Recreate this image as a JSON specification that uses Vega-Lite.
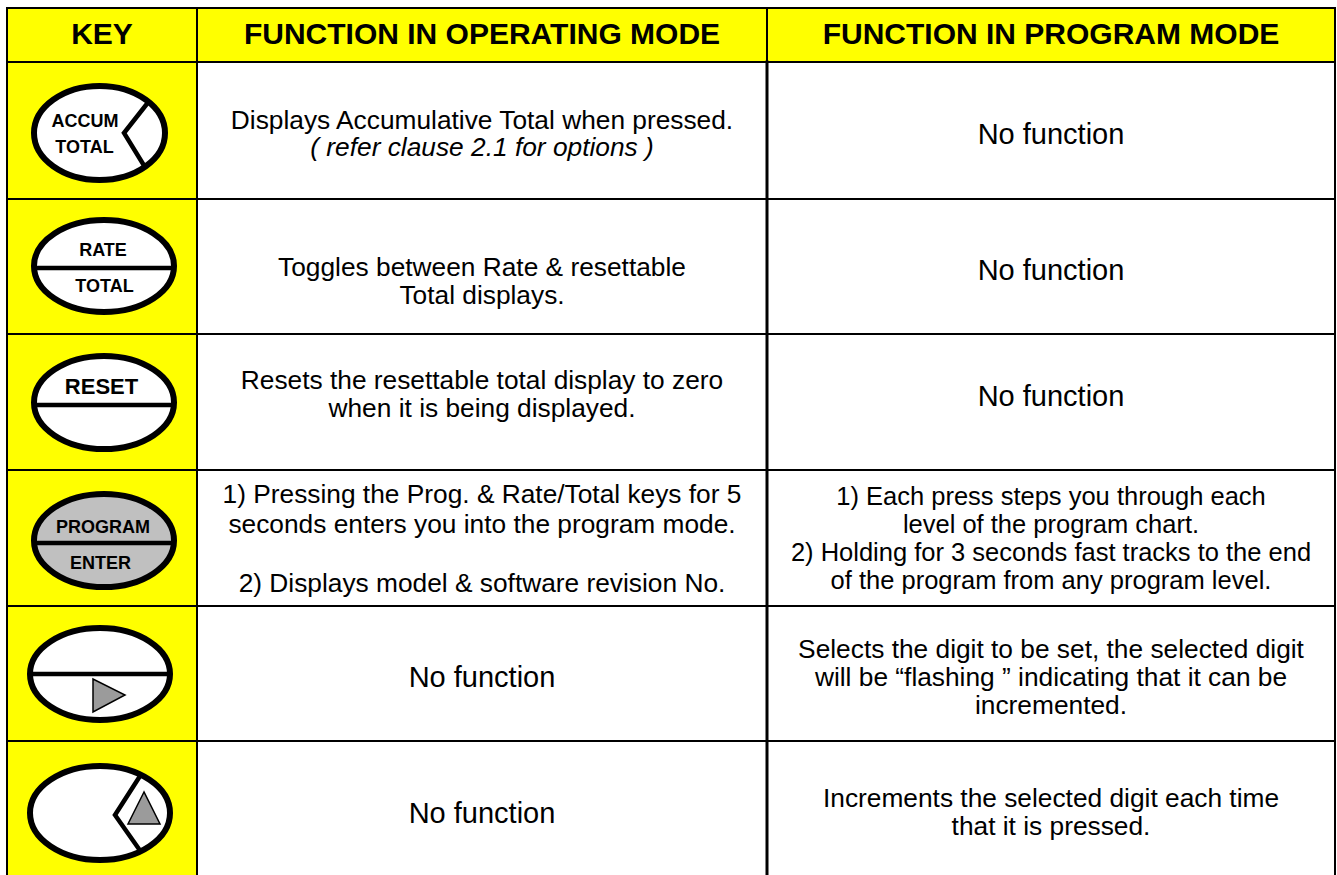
{
  "$schema": "https://vega.github.io/schema/vega-lite/v6.json",
  "width": 1337,
  "height": 875,
  "padding": 0,
  "autosize": {"type": "none"},
  "background": "white",
  "config": {
    "view": {"stroke": null},
    "axis": {"disable": true},
    "legend": {"disable": true},
    "text": {"font": "Liberation Sans", "color": "#000000"}
  },
  "datasets": {
    "header": [
      {"col": 0, "title": "KEY"},
      {"col": 1, "title": "FUNCTION IN OPERATING MODE"},
      {"col": 2, "title": "FUNCTION IN PROGRAM MODE"}
    ],
    "keys": [
      {"row": 1, "key": "accum", "upper": "ACCUM", "lower": "TOTAL"},
      {"row": 2, "key": "rate", "upper": "RATE", "lower": "TOTAL"},
      {"row": 3, "key": "reset", "upper": "RESET"},
      {"row": 4, "key": "program", "upper": "PROGRAM", "lower": "ENTER"},
      {"row": 5, "key": "right"},
      {"row": 6, "key": "up"}
    ],
    "cells": [
      {"row": 1, "col": 1, "text": "Displays Accumulative Total when pressed.", "note": "( refer clause 2.1 for options )"},
      {"row": 1, "col": 2, "text": "No function"},
      {"row": 2, "col": 1, "text": "Toggles between Rate & resettable\nTotal displays."},
      {"row": 2, "col": 2, "text": "No function"},
      {"row": 3, "col": 1, "text": "Resets the resettable total display to zero\nwhen it is being displayed."},
      {"row": 3, "col": 2, "text": "No function"},
      {"row": 4, "col": 1, "text": "1) Pressing the Prog. & Rate/Total keys for 5\nseconds enters you into the program mode.", "second": "2) Displays model & software revision No."},
      {"row": 4, "col": 2, "text": "1) Each press steps you through each\nlevel of the program chart.\n2) Holding for 3 seconds fast tracks to the end\nof the program from any program level."},
      {"row": 5, "col": 1, "text": "No function"},
      {"row": 5, "col": 2, "text": "Selects the digit to be set, the selected digit\nwill be “flashing ” indicating that it can be\nincremented."},
      {"row": 6, "col": 1, "text": "No function"},
      {"row": 6, "col": 2, "text": "Increments the selected digit each time\nthat it is pressed."}
    ]
  },
  "data": {"name": "cells"},
  "layer": [
    {
      "data": {"values": [{}]},
      "mark": {"type": "rect", "fill": "#FFFF00"},
      "encoding": {
        "x": {"datum": -0.5, "type": "quantitative", "axis": null,
          "scale": {"domain": [-0.5, 0, 0.5, 1, 1.5, 2, 2.5], "range": [7, 102, 197, 482, 767, 1051, 1335], "nice": false, "zero": false}},
        "x2": {"datum": 2.5},
        "y": {"datum": -0.5, "type": "quantitative", "axis": null,
          "scale": {"domain": [-0.5, 0, 0.5, 1, 1.5, 2, 2.5, 3, 3.5, 4, 4.5, 5, 5.5, 6, 6.5], "range": [8, 35, 62, 130.5, 199, 266.5, 334, 402, 470, 538, 606, 673.5, 741, 809.5, 878], "nice": false, "zero": false}},
        "y2": {"datum": 0.5}
      }
    },
    {
      "data": {"values": [{}]},
      "mark": {"type": "rect", "fill": "#FFFF00"},
      "encoding": {
        "x": {"datum": -0.5, "type": "quantitative"},
        "x2": {"datum": 0.5},
        "y": {"datum": 0.5, "type": "quantitative"},
        "y2": {"datum": 6.5}
      }
    },
    {
      "data": {"name": "header"},
      "mark": {"type": "text", "fontSize": 30, "fontWeight": "bold", "align": "center", "baseline": "middle"},
      "encoding": {
        "x": {"field": "col", "type": "quantitative"},
        "y": {"datum": 0, "type": "quantitative"},
        "text": {"field": "title"}
      }
    },
    {
      "transform": [{"filter": "datum.row == 1 && datum.col == 1"}],
      "mark": {"type": "text", "fontSize": 26.3, "align": "center", "baseline": "middle", "dy": -10},
      "encoding": {
        "x": {"field": "col", "type": "quantitative"},
        "y": {"field": "row", "type": "quantitative"},
        "text": {"field": "text"}
      }
    },
    {
      "transform": [{"filter": "isValid(datum.note)"}],
      "mark": {"type": "text", "fontSize": 26.3, "fontStyle": "italic", "align": "center", "baseline": "middle", "dy": 17},
      "encoding": {
        "x": {"field": "col", "type": "quantitative"},
        "y": {"field": "row", "type": "quantitative"},
        "text": {"field": "note"}
      }
    },
    {
      "transform": [{"filter": "datum.row == 2 && datum.col == 1"}],
      "mark": {"type": "text", "fontSize": 26.3, "lineHeight": 28, "lineBreak": "\n", "align": "center", "baseline": "middle", "dy": 1},
      "encoding": {
        "x": {"field": "col", "type": "quantitative"},
        "y": {"field": "row", "type": "quantitative"},
        "text": {"field": "text"}
      }
    },
    {
      "transform": [{"filter": "datum.row == 3 && datum.col == 1"}],
      "mark": {"type": "text", "fontSize": 26.3, "lineHeight": 28, "lineBreak": "\n", "align": "center", "baseline": "middle", "dy": -21},
      "encoding": {
        "x": {"field": "col", "type": "quantitative"},
        "y": {"field": "row", "type": "quantitative"},
        "text": {"field": "text"}
      }
    },
    {
      "transform": [{"filter": "datum.row == 4 && datum.col == 1"}],
      "mark": {"type": "text", "fontSize": 26.3, "lineHeight": 29.5, "lineBreak": "\n", "align": "center", "baseline": "middle", "dy": -43},
      "encoding": {
        "x": {"field": "col", "type": "quantitative"},
        "y": {"field": "row", "type": "quantitative"},
        "text": {"field": "text"}
      }
    },
    {
      "transform": [{"filter": "isValid(datum.second)"}],
      "mark": {"type": "text", "fontSize": 26.3, "align": "center", "baseline": "middle", "dy": 45.5},
      "encoding": {
        "x": {"field": "col", "type": "quantitative"},
        "y": {"field": "row", "type": "quantitative"},
        "text": {"field": "second"}
      }
    },
    {
      "transform": [{"filter": "datum.row == 4 && datum.col == 2"}],
      "mark": {"type": "text", "fontSize": 25.5, "lineHeight": 28.3, "lineBreak": "\n", "align": "center", "baseline": "middle", "dy": -41.5},
      "encoding": {
        "x": {"field": "col", "type": "quantitative"},
        "y": {"field": "row", "type": "quantitative"},
        "text": {"field": "text"}
      }
    },
    {
      "transform": [{"filter": "datum.row == 5 && datum.col == 2"}],
      "mark": {"type": "text", "fontSize": 26.3, "lineHeight": 28, "lineBreak": "\n", "align": "center", "baseline": "middle", "dy": -24},
      "encoding": {
        "x": {"field": "col", "type": "quantitative"},
        "y": {"field": "row", "type": "quantitative"},
        "text": {"field": "text"}
      }
    },
    {
      "transform": [{"filter": "datum.row == 6 && datum.col == 2"}],
      "mark": {"type": "text", "fontSize": 26.3, "lineHeight": 28, "lineBreak": "\n", "align": "center", "baseline": "middle", "dy": -11},
      "encoding": {
        "x": {"field": "col", "type": "quantitative"},
        "y": {"field": "row", "type": "quantitative"},
        "text": {"field": "text"}
      }
    },
    {
      "transform": [{"filter": "datum.text == 'No function' && datum.row != 3"}],
      "mark": {"type": "text", "fontSize": 29, "align": "center", "baseline": "middle", "dy": 4},
      "encoding": {
        "x": {"field": "col", "type": "quantitative"},
        "y": {"field": "row", "type": "quantitative"},
        "text": {"field": "text"}
      }
    },
    {
      "transform": [{"filter": "datum.text == 'No function' && datum.row == 3"}],
      "mark": {"type": "text", "fontSize": 29, "align": "center", "baseline": "middle", "dy": -5},
      "encoding": {
        "x": {"field": "col", "type": "quantitative"},
        "y": {"field": "row", "type": "quantitative"},
        "text": {"field": "text"}
      }
    },
    {
      "data": {"name": "keys"},
      "mark": {"type": "point", "filled": true, "opacity": 1, "stroke": "#000000", "strokeWidth": 6, "size": 4},
      "encoding": {
        "x": {"datum": 0, "type": "quantitative"},
        "y": {"field": "row", "type": "quantitative"},
        "shape": {"field": "key", "type": "nominal", "legend": null,
          "scale": {"domain": ["accum", "rate", "reset", "program", "right", "up"],
            "range": [
              "M -68 2.5 A 65.5 47 0 1 0 63 2.5 A 65.5 47 0 1 0 -68 2.5 Z",
              "M -68 -0.5 A 70 46 0 1 0 72 -0.5 A 70 46 0 1 0 -68 -0.5 Z",
              "M -68 0.5 A 70 46.5 0 1 0 72 0.5 A 70 46.5 0 1 0 -68 0.5 Z",
              "M -68 2.5 A 70 46.5 0 1 0 72 2.5 A 70 46.5 0 1 0 -68 2.5 Z",
              "M -72 0.5 A 70 46 0 1 0 68 0.5 A 70 46 0 1 0 -72 0.5 Z",
              "M -72 3.5 A 70 47 0 1 0 68 3.5 A 70 47 0 1 0 -72 3.5 Z"
            ]}},
        "fill": {"field": "key", "type": "nominal", "legend": null,
          "scale": {"domain": ["accum", "rate", "reset", "program", "right", "up"],
            "range": ["#ffffff", "#ffffff", "#ffffff", "#c0c0c0", "#ffffff", "#ffffff"]}}
      }
    },
    {
      "data": {"name": "keys"},
      "mark": {"type": "point", "filled": false, "opacity": 1, "stroke": "#000000", "strokeWidth": 4.5, "size": 4, "strokeJoin": "miter"},
      "encoding": {
        "x": {"datum": 0, "type": "quantitative"},
        "y": {"field": "row", "type": "quantitative"},
        "shape": {"field": "key", "type": "nominal", "legend": null,
          "scale": {"domain": ["accum", "rate", "reset", "program", "right", "up"],
            "range": [
              "M 46 -28 L 22 2.5 L 42 35",
              "M -67 1.5 L 71 1.5",
              "M -67 3 L 71 3",
              "M -67 5 L 71 5",
              "M -71 0.5 L 67 0.5",
              "M 39 -35 L 13 5.5 L 38 41"
            ]}}
      }
    },
    {
      "data": {"name": "keys"},
      "transform": [{"filter": "datum.key == 'right' || datum.key == 'up'"}],
      "mark": {"type": "point", "filled": true, "opacity": 1, "fill": "#9b9b9b", "stroke": "#000000", "strokeWidth": 1.5, "size": 4},
      "encoding": {
        "x": {"datum": 0, "type": "quantitative"},
        "y": {"field": "row", "type": "quantitative"},
        "shape": {"field": "key", "type": "nominal", "legend": null,
          "scale": {"domain": ["right", "up"],
            "range": [
              "M -9 5.5 L -9 38.5 L 23 21.5 Z",
              "M 42 -17.5 L 26 14.5 L 58 14.5 Z"
            ]}}
      }
    },
    {
      "data": {"name": "keys"},
      "transform": [{"filter": "datum.key == 'accum'"}],
      "mark": {"type": "text", "fontSize": 18, "fontWeight": "bold", "align": "center", "baseline": "alphabetic", "dx": -17, "dy": -3.5},
      "encoding": {"x": {"datum": 0, "type": "quantitative"}, "y": {"field": "row", "type": "quantitative"}, "text": {"field": "upper"}}
    },
    {
      "data": {"name": "keys"},
      "transform": [{"filter": "datum.key == 'accum'"}],
      "mark": {"type": "text", "fontSize": 18, "fontWeight": "bold", "align": "center", "baseline": "alphabetic", "dx": -17.5, "dy": 22.5},
      "encoding": {"x": {"datum": 0, "type": "quantitative"}, "y": {"field": "row", "type": "quantitative"}, "text": {"field": "lower"}}
    },
    {
      "data": {"name": "keys"},
      "transform": [{"filter": "datum.key == 'rate'"}],
      "mark": {"type": "text", "fontSize": 18, "fontWeight": "bold", "align": "center", "baseline": "alphabetic", "dx": 1, "dy": -10.5},
      "encoding": {"x": {"datum": 0, "type": "quantitative"}, "y": {"field": "row", "type": "quantitative"}, "text": {"field": "upper"}}
    },
    {
      "data": {"name": "keys"},
      "transform": [{"filter": "datum.key == 'rate'"}],
      "mark": {"type": "text", "fontSize": 18, "fontWeight": "bold", "align": "center", "baseline": "alphabetic", "dx": 2.5, "dy": 25.5},
      "encoding": {"x": {"datum": 0, "type": "quantitative"}, "y": {"field": "row", "type": "quantitative"}, "text": {"field": "lower"}}
    },
    {
      "data": {"name": "keys"},
      "transform": [{"filter": "datum.key == 'reset'"}],
      "mark": {"type": "text", "fontSize": 22, "fontWeight": "bold", "align": "center", "baseline": "alphabetic", "dx": -0.5, "dy": -8},
      "encoding": {"x": {"datum": 0, "type": "quantitative"}, "y": {"field": "row", "type": "quantitative"}, "text": {"field": "upper"}}
    },
    {
      "data": {"name": "keys"},
      "transform": [{"filter": "datum.key == 'program'"}],
      "mark": {"type": "text", "fontSize": 18, "fontWeight": "bold", "align": "center", "baseline": "alphabetic", "dx": 1, "dy": -5},
      "encoding": {"x": {"datum": 0, "type": "quantitative"}, "y": {"field": "row", "type": "quantitative"}, "text": {"field": "upper"}}
    },
    {
      "data": {"name": "keys"},
      "transform": [{"filter": "datum.key == 'program'"}],
      "mark": {"type": "text", "fontSize": 18, "fontWeight": "bold", "align": "center", "baseline": "alphabetic", "dx": -1.5, "dy": 31},
      "encoding": {"x": {"datum": 0, "type": "quantitative"}, "y": {"field": "row", "type": "quantitative"}, "text": {"field": "lower"}}
    },
    {"data": {"values": [{}]}, "mark": {"type": "rule", "color": "#000000", "strokeWidth": 2, "strokeCap": "square"},
      "encoding": {"x": {"datum": -0.5, "type": "quantitative"}, "x2": {"datum": 2.5}, "y": {"datum": -0.5, "type": "quantitative"}}},
    {"data": {"values": [{}]}, "mark": {"type": "rule", "color": "#000000", "strokeWidth": 2, "strokeCap": "square"},
      "encoding": {"x": {"datum": -0.5, "type": "quantitative"}, "x2": {"datum": 2.5}, "y": {"datum": 0.5, "type": "quantitative"}}},
    {"data": {"values": [{}]}, "mark": {"type": "rule", "color": "#000000", "strokeWidth": 2, "strokeCap": "square"},
      "encoding": {"x": {"datum": -0.5, "type": "quantitative"}, "x2": {"datum": 2.5}, "y": {"datum": 1.5, "type": "quantitative"}}},
    {"data": {"values": [{}]}, "mark": {"type": "rule", "color": "#000000", "strokeWidth": 2, "strokeCap": "square"},
      "encoding": {"x": {"datum": -0.5, "type": "quantitative"}, "x2": {"datum": 2.5}, "y": {"datum": 2.5, "type": "quantitative"}}},
    {"data": {"values": [{}]}, "mark": {"type": "rule", "color": "#000000", "strokeWidth": 2, "strokeCap": "square"},
      "encoding": {"x": {"datum": -0.5, "type": "quantitative"}, "x2": {"datum": 2.5}, "y": {"datum": 3.5, "type": "quantitative"}}},
    {"data": {"values": [{}]}, "mark": {"type": "rule", "color": "#000000", "strokeWidth": 2, "strokeCap": "square"},
      "encoding": {"x": {"datum": -0.5, "type": "quantitative"}, "x2": {"datum": 2.5}, "y": {"datum": 4.5, "type": "quantitative"}}},
    {"data": {"values": [{}]}, "mark": {"type": "rule", "color": "#000000", "strokeWidth": 2, "strokeCap": "square"},
      "encoding": {"x": {"datum": -0.5, "type": "quantitative"}, "x2": {"datum": 2.5}, "y": {"datum": 5.5, "type": "quantitative"}}},
    {"data": {"values": [{}]}, "mark": {"type": "rule", "color": "#000000", "strokeWidth": 2, "strokeCap": "square"},
      "encoding": {"x": {"datum": -0.5, "type": "quantitative"}, "y": {"datum": -0.5, "type": "quantitative"}, "y2": {"datum": 6.5}}},
    {"data": {"values": [{}]}, "mark": {"type": "rule", "color": "#000000", "strokeWidth": 2, "strokeCap": "square"},
      "encoding": {"x": {"datum": 0.5, "type": "quantitative"}, "y": {"datum": -0.5, "type": "quantitative"}, "y2": {"datum": 6.5}}},
    {"data": {"values": [{}]}, "mark": {"type": "rule", "color": "#000000", "strokeWidth": 2, "strokeCap": "square"},
      "encoding": {"x": {"datum": 1.5, "type": "quantitative"}, "y": {"datum": -0.5, "type": "quantitative"}, "y2": {"datum": 0.5}}},
    {"data": {"values": [{}]}, "mark": {"type": "rule", "color": "#000000", "strokeWidth": 3, "strokeCap": "square"},
      "encoding": {"x": {"datum": 1.5, "type": "quantitative"}, "y": {"datum": 0.5, "type": "quantitative"}, "y2": {"datum": 6.5}}},
    {"data": {"values": [{}]}, "mark": {"type": "rule", "color": "#000000", "strokeWidth": 2, "strokeCap": "square"},
      "encoding": {"x": {"datum": 2.5, "type": "quantitative"}, "y": {"datum": -0.5, "type": "quantitative"}, "y2": {"datum": 6.5}}}
  ],
  "resolve": {"scale": {"shape": "independent", "fill": "independent"}}
}
